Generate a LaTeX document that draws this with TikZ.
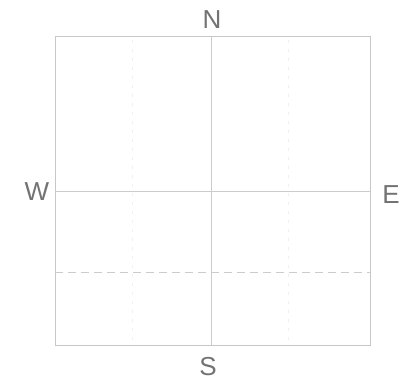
\documentclass[tikz,border=0pt]{standalone}
\usepackage{fontspec}
\setmainfont{Liberation Sans}
\begin{document}
\begin{tikzpicture}[x=1pt,y=-1pt,
  frame/.style={draw=black!22,line width=0.9pt},
  axis/.style={draw=black!20,line width=0.8pt},
  faint/.style={draw=black!6,line width=0.6pt,dash pattern=on 3pt off 6pt},
  hdash/.style={draw=black!20,line width=0.8pt,dash pattern=on 8pt off 5pt},
  dir/.style={text=black!55,font=\fontsize{26}{26}\selectfont,inner sep=0pt}]
\useasboundingbox (0,0) rectangle (407,385);
\fill[white] (0,0) rectangle (407,385);
\coordinate (tl) at (55,36);
\coordinate (br) at (370,345);
\draw[frame] (tl) rectangle (br);
\coordinate (nt) at (211,36);
\coordinate (nb) at (211,345);
\coordinate (wl) at (55,191);
\coordinate (er) at (370,191);
\draw[axis] (nt) -- (nb);
\draw[axis] (wl) -- (er);
\coordinate (dl) at (55,272);
\coordinate (dr) at (370,272);
\draw[hdash] (dl) -- (dr);
\coordinate (v1t) at (132,40);
\coordinate (v1b) at (132,340);
\coordinate (v2t) at (288,40);
\coordinate (v2b) at (288,340);
\draw[faint] (v1t) -- (v1b);
\draw[faint] (v2t) -- (v2b);
\node[dir] (N) at (212,20) {N};
\node[dir] (S) at (208,367) {S};
\node[dir] (W) at (37,192) {W};
\node[dir] (E) at (391,195) {E};
\end{tikzpicture}
\end{document}
